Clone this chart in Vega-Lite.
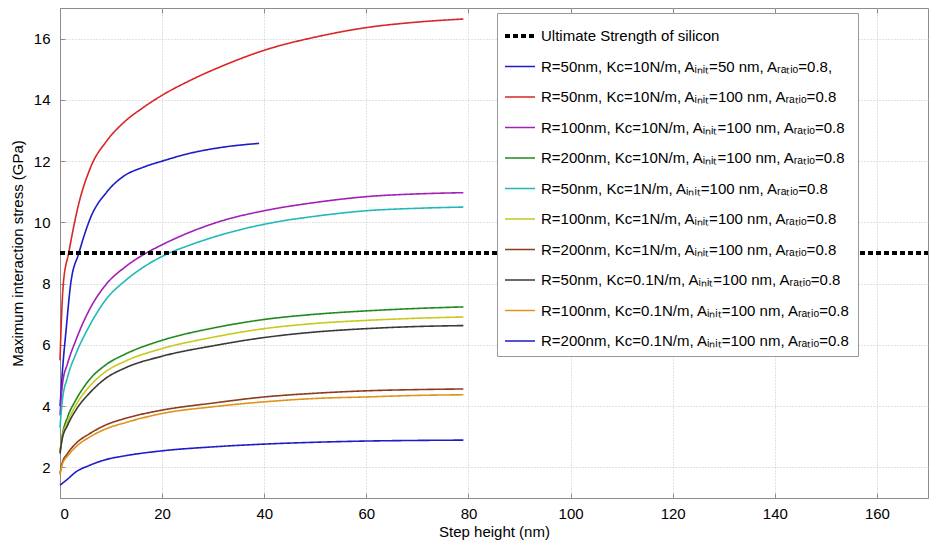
{
  "$schema": "https://vega.github.io/schema/vega-lite/v6.json",
  "width": 868,
  "height": 490,
  "autosize": {"type": "none"},
  "padding": {"left": 60, "top": 8, "right": 3, "bottom": 50},
  "background": "white",
  "datasets": {
    "labels": [
      {"id": "S0", "label": "Ultimate Strength of silicon"},
      {"id": "S1", "label": "R=50nm, Kc=10N/m, Aᵢₙᵢₜ=50 nm, Aᵣₐₜᵢₒ=0.8,"},
      {"id": "S2", "label": "R=50nm, Kc=10N/m, Aᵢₙᵢₜ=100 nm, Aᵣₐₜᵢₒ=0.8"},
      {"id": "S3", "label": "R=100nm, Kc=10N/m, Aᵢₙᵢₜ=100 nm, Aᵣₐₜᵢₒ=0.8"},
      {"id": "S4", "label": "R=200nm, Kc=10N/m, Aᵢₙᵢₜ=100 nm, Aᵣₐₜᵢₒ=0.8"},
      {"id": "S5", "label": "R=50nm, Kc=1N/m, Aᵢₙᵢₜ=100 nm, Aᵣₐₜᵢₒ=0.8"},
      {"id": "S6", "label": "R=100nm, Kc=1N/m, Aᵢₙᵢₜ=100 nm, Aᵣₐₜᵢₒ=0.8"},
      {"id": "S7", "label": "R=200nm, Kc=1N/m, Aᵢₙᵢₜ=100 nm, Aᵣₐₜᵢₒ=0.8"},
      {"id": "S8", "label": "R=50nm, Kc=0.1N/m, Aᵢₙᵢₜ=100 nm, Aᵣₐₜᵢₒ=0.8"},
      {"id": "S9", "label": "R=100nm, Kc=0.1N/m, Aᵢₙᵢₜ=100 nm, Aᵣₐₜᵢₒ=0.8"},
      {"id": "S10", "label": "R=200nm, Kc=0.1N/m, Aᵢₙᵢₜ=100 nm, Aᵣₐₜᵢₒ=0.8"}
    ],
    "curves": [
      {"id": "S0", "x": 0, "y": 9}, {"id": "S0", "x": 170, "y": 9},
      {"id": "S1", "x": 0, "y": 4.0}, {"id": "S1", "x": 0.13, "y": 4.3}, {"id": "S1", "x": 0.5, "y": 5.2}, {"id": "S1", "x": 1.2, "y": 6.5}, {"id": "S1", "x": 2.1, "y": 8.0}, {"id": "S1", "x": 3.7, "y": 9.0}, {"id": "S1", "x": 6, "y": 10.16}, {"id": "S1", "x": 9.2, "y": 11.0}, {"id": "S1", "x": 12.4, "y": 11.5}, {"id": "S1", "x": 16.3, "y": 11.8}, {"id": "S1", "x": 20, "y": 12.0}, {"id": "S1", "x": 25.3, "y": 12.25}, {"id": "S1", "x": 31.7, "y": 12.45}, {"id": "S1", "x": 39, "y": 12.58},
      {"id": "S2", "x": 0, "y": 5.5}, {"id": "S2", "x": 0.2, "y": 6.5}, {"id": "S2", "x": 0.65, "y": 8.0}, {"id": "S2", "x": 1.7, "y": 9.0}, {"id": "S2", "x": 3.5, "y": 10.49}, {"id": "S2", "x": 6, "y": 11.8}, {"id": "S2", "x": 9.2, "y": 12.67}, {"id": "S2", "x": 12.4, "y": 13.25}, {"id": "S2", "x": 16.3, "y": 13.75}, {"id": "S2", "x": 20, "y": 14.15}, {"id": "S2", "x": 25.3, "y": 14.62}, {"id": "S2", "x": 31.7, "y": 15.1}, {"id": "S2", "x": 40, "y": 15.62}, {"id": "S2", "x": 50, "y": 16.05}, {"id": "S2", "x": 60, "y": 16.36}, {"id": "S2", "x": 70, "y": 16.54}, {"id": "S2", "x": 79, "y": 16.64},
      {"id": "S3", "x": 0, "y": 3.7}, {"id": "S3", "x": 0.5, "y": 4.74}, {"id": "S3", "x": 1.5, "y": 5.4}, {"id": "S3", "x": 3.1, "y": 6.15}, {"id": "S3", "x": 5.7, "y": 7.13}, {"id": "S3", "x": 8.9, "y": 7.95}, {"id": "S3", "x": 12.8, "y": 8.55}, {"id": "S3", "x": 16.9, "y": 9.0}, {"id": "S3", "x": 20, "y": 9.27}, {"id": "S3", "x": 25.3, "y": 9.67}, {"id": "S3", "x": 31.7, "y": 10.05}, {"id": "S3", "x": 40, "y": 10.38}, {"id": "S3", "x": 50, "y": 10.65}, {"id": "S3", "x": 60, "y": 10.84}, {"id": "S3", "x": 70, "y": 10.93}, {"id": "S3", "x": 79, "y": 10.97},
      {"id": "S4", "x": 0, "y": 2.5}, {"id": "S4", "x": 0.4, "y": 3.0}, {"id": "S4", "x": 1.5, "y": 3.65}, {"id": "S4", "x": 3.1, "y": 4.2}, {"id": "S4", "x": 5.7, "y": 4.85}, {"id": "S4", "x": 8.9, "y": 5.34}, {"id": "S4", "x": 12.8, "y": 5.7}, {"id": "S4", "x": 20, "y": 6.15}, {"id": "S4", "x": 30, "y": 6.55}, {"id": "S4", "x": 40, "y": 6.83}, {"id": "S4", "x": 50, "y": 7.0}, {"id": "S4", "x": 60, "y": 7.11}, {"id": "S4", "x": 70, "y": 7.19}, {"id": "S4", "x": 79, "y": 7.24},
      {"id": "S5", "x": 0, "y": 3.3}, {"id": "S5", "x": 0.4, "y": 4.1}, {"id": "S5", "x": 1.5, "y": 4.96}, {"id": "S5", "x": 3.1, "y": 5.7}, {"id": "S5", "x": 5.7, "y": 6.6}, {"id": "S5", "x": 8.9, "y": 7.46}, {"id": "S5", "x": 12.8, "y": 8.1}, {"id": "S5", "x": 16, "y": 8.5}, {"id": "S5", "x": 21, "y": 8.97}, {"id": "S5", "x": 25.3, "y": 9.25}, {"id": "S5", "x": 31.7, "y": 9.6}, {"id": "S5", "x": 41.9, "y": 10.0}, {"id": "S5", "x": 50, "y": 10.2}, {"id": "S5", "x": 60, "y": 10.38}, {"id": "S5", "x": 70, "y": 10.46}, {"id": "S5", "x": 79, "y": 10.5},
      {"id": "S6", "x": 0, "y": 2.5}, {"id": "S6", "x": 0.4, "y": 2.95}, {"id": "S6", "x": 1.5, "y": 3.49}, {"id": "S6", "x": 3.1, "y": 4.03}, {"id": "S6", "x": 5.7, "y": 4.63}, {"id": "S6", "x": 8.9, "y": 5.12}, {"id": "S6", "x": 12.8, "y": 5.47}, {"id": "S6", "x": 20, "y": 5.88}, {"id": "S6", "x": 30, "y": 6.25}, {"id": "S6", "x": 40, "y": 6.53}, {"id": "S6", "x": 50, "y": 6.7}, {"id": "S6", "x": 60, "y": 6.8}, {"id": "S6", "x": 70, "y": 6.87}, {"id": "S6", "x": 79, "y": 6.91},
      {"id": "S7", "x": 0, "y": 1.8}, {"id": "S7", "x": 0.4, "y": 2.13}, {"id": "S7", "x": 1.5, "y": 2.46}, {"id": "S7", "x": 3.1, "y": 2.78}, {"id": "S7", "x": 5.7, "y": 3.09}, {"id": "S7", "x": 8.9, "y": 3.38}, {"id": "S7", "x": 12.8, "y": 3.6}, {"id": "S7", "x": 20, "y": 3.87}, {"id": "S7", "x": 30, "y": 4.1}, {"id": "S7", "x": 40, "y": 4.3}, {"id": "S7", "x": 50, "y": 4.42}, {"id": "S7", "x": 60, "y": 4.5}, {"id": "S7", "x": 70, "y": 4.54}, {"id": "S7", "x": 79, "y": 4.56},
      {"id": "S8", "x": 0, "y": 2.45}, {"id": "S8", "x": 0.4, "y": 2.9}, {"id": "S8", "x": 1.5, "y": 3.38}, {"id": "S8", "x": 3.1, "y": 3.87}, {"id": "S8", "x": 5.7, "y": 4.41}, {"id": "S8", "x": 8.9, "y": 4.9}, {"id": "S8", "x": 12.8, "y": 5.25}, {"id": "S8", "x": 20, "y": 5.63}, {"id": "S8", "x": 30, "y": 5.97}, {"id": "S8", "x": 40, "y": 6.24}, {"id": "S8", "x": 50, "y": 6.42}, {"id": "S8", "x": 60, "y": 6.53}, {"id": "S8", "x": 70, "y": 6.6}, {"id": "S8", "x": 79, "y": 6.63},
      {"id": "S9", "x": 0, "y": 1.75}, {"id": "S9", "x": 0.4, "y": 2.08}, {"id": "S9", "x": 1.5, "y": 2.37}, {"id": "S9", "x": 3.1, "y": 2.67}, {"id": "S9", "x": 5.7, "y": 2.98}, {"id": "S9", "x": 8.9, "y": 3.25}, {"id": "S9", "x": 12.8, "y": 3.46}, {"id": "S9", "x": 20, "y": 3.76}, {"id": "S9", "x": 30, "y": 3.98}, {"id": "S9", "x": 40, "y": 4.14}, {"id": "S9", "x": 50, "y": 4.25}, {"id": "S9", "x": 60, "y": 4.3}, {"id": "S9", "x": 70, "y": 4.35}, {"id": "S9", "x": 79, "y": 4.37},
      {"id": "S10", "x": 0, "y": 1.42}, {"id": "S10", "x": 1.5, "y": 1.62}, {"id": "S10", "x": 3.1, "y": 1.85}, {"id": "S10", "x": 5.7, "y": 2.06}, {"id": "S10", "x": 8.9, "y": 2.25}, {"id": "S10", "x": 12.8, "y": 2.38}, {"id": "S10", "x": 20, "y": 2.54}, {"id": "S10", "x": 30, "y": 2.67}, {"id": "S10", "x": 40, "y": 2.76}, {"id": "S10", "x": 50, "y": 2.82}, {"id": "S10", "x": 60, "y": 2.86}, {"id": "S10", "x": 70, "y": 2.88}, {"id": "S10", "x": 79, "y": 2.89}
    ]
  },
  "data": {"name": "curves"},
  "transform": [
    {"lookup": "id", "from": {"data": {"name": "labels"}, "key": "id", "fields": ["label"]}}
  ],
  "layer": [
    {
      "transform": [{"filter": "datum.id != 'S0'"}],
      "mark": {"type": "line", "interpolate": "monotone", "strokeWidth": 1.6},
      "encoding": {
        "x": {"field": "x", "type": "quantitative", "scale": {"domain": [0, 170], "nice": false},
              "axis": {"orient": "bottom", "title": "Step height (nm)", "values": [0, 20, 40, 60, 80, 100, 120, 140, 160], "tickSize": -5, "labelPadding": 13, "titlePadding": 3, "grid": true}},
        "y": {"field": "y", "type": "quantitative", "scale": {"domain": [1, 17], "nice": false, "zero": false},
              "axis": {"orient": "left", "title": "Maximum interaction stress (GPa)", "values": [2, 4, 6, 8, 10, 12, 14, 16], "tickSize": -5, "labelPadding": 15, "titlePadding": 8, "grid": true}},
        "detail": {"field": "id"},
        "color": {"field": "label", "type": "nominal", "scale": {"domain": [
            "Ultimate Strength of silicon",
            "R=50nm, Kc=10N/m, Aᵢₙᵢₜ=50 nm, Aᵣₐₜᵢₒ=0.8,",
            "R=50nm, Kc=10N/m, Aᵢₙᵢₜ=100 nm, Aᵣₐₜᵢₒ=0.8",
            "R=100nm, Kc=10N/m, Aᵢₙᵢₜ=100 nm, Aᵣₐₜᵢₒ=0.8",
            "R=200nm, Kc=10N/m, Aᵢₙᵢₜ=100 nm, Aᵣₐₜᵢₒ=0.8",
            "R=50nm, Kc=1N/m, Aᵢₙᵢₜ=100 nm, Aᵣₐₜᵢₒ=0.8",
            "R=100nm, Kc=1N/m, Aᵢₙᵢₜ=100 nm, Aᵣₐₜᵢₒ=0.8",
            "R=200nm, Kc=1N/m, Aᵢₙᵢₜ=100 nm, Aᵣₐₜᵢₒ=0.8",
            "R=50nm, Kc=0.1N/m, Aᵢₙᵢₜ=100 nm, Aᵣₐₜᵢₒ=0.8",
            "R=100nm, Kc=0.1N/m, Aᵢₙᵢₜ=100 nm, Aᵣₐₜᵢₒ=0.8",
            "R=200nm, Kc=0.1N/m, Aᵢₙᵢₜ=100 nm, Aᵣₐₜᵢₒ=0.8"],
            "range": ["#000000", "#1c1cc8", "#d92626", "#a020b8", "#1f8a1f", "#20b8b8", "#c8c81e", "#8c3c1c", "#3a3a3a", "#e0921c", "#1c1cc8"]},
          "legend": {"title": null, "orient": "none", "legendX": 437, "legendY": 5, "symbolType": "stroke", "symbolSize": 900, "labelFontSize": 15, "labelLimit": 0, "fillColor": "white", "strokeColor": "#999999", "padding": 7, "rowPadding": 6.5, "labelOffset": 5, "labelColor": "#000000", "labelFont": "Liberation Sans",
            "encode": {"symbols": {"update": {"strokeWidth": {"signal": "(datum && datum.index === 0 ? 4 : 1.6)"}}}}}},
        "strokeDash": {"field": "label", "type": "nominal", "scale": {"domain": [
            "Ultimate Strength of silicon",
            "R=50nm, Kc=10N/m, Aᵢₙᵢₜ=50 nm, Aᵣₐₜᵢₒ=0.8,",
            "R=50nm, Kc=10N/m, Aᵢₙᵢₜ=100 nm, Aᵣₐₜᵢₒ=0.8",
            "R=100nm, Kc=10N/m, Aᵢₙᵢₜ=100 nm, Aᵣₐₜᵢₒ=0.8",
            "R=200nm, Kc=10N/m, Aᵢₙᵢₜ=100 nm, Aᵣₐₜᵢₒ=0.8",
            "R=50nm, Kc=1N/m, Aᵢₙᵢₜ=100 nm, Aᵣₐₜᵢₒ=0.8",
            "R=100nm, Kc=1N/m, Aᵢₙᵢₜ=100 nm, Aᵣₐₜᵢₒ=0.8",
            "R=200nm, Kc=1N/m, Aᵢₙᵢₜ=100 nm, Aᵣₐₜᵢₒ=0.8",
            "R=50nm, Kc=0.1N/m, Aᵢₙᵢₜ=100 nm, Aᵣₐₜᵢₒ=0.8",
            "R=100nm, Kc=0.1N/m, Aᵢₙᵢₜ=100 nm, Aᵣₐₜᵢₒ=0.8",
            "R=200nm, Kc=0.1N/m, Aᵢₙᵢₜ=100 nm, Aᵣₐₜᵢₒ=0.8"],
            "range": [[5, 3], [1, 0], [1, 0], [1, 0], [1, 0], [1, 0], [1, 0], [1, 0], [1, 0], [1, 0], [1, 0]]},
          "legend": {"title": null}}
      }
    },
    {
      "transform": [{"filter": "datum.id == 'S0'"}],
      "mark": {"type": "line", "strokeWidth": 4},
      "encoding": {
        "x": {"field": "x", "type": "quantitative",
              "axis": {"orient": "top", "title": null, "labels": false, "values": [0, 20, 40, 60, 80, 100, 120, 140, 160], "tickSize": -5, "domain": false, "grid": false}},
        "y": {"field": "y", "type": "quantitative"},
        "color": {"field": "label", "type": "nominal"},
        "strokeDash": {"field": "label", "type": "nominal"}
      }
    }
  ],
  "resolve": {"axis": {"x": "independent"}},
  "config": {
    "font": "Liberation Sans",
    "view": {"stroke": "#8c8c8c", "strokeWidth": 1},
    "axis": {
      "domainColor": "#8c8c8c", "tickColor": "#8c8c8c", "gridColor": "#c4c4c4", "gridDash": [1, 2], "gridWidth": 1,
      "labelColor": "#000000", "titleColor": "#000000", "labelFontSize": 15, "titleFontSize": 15,
      "titleFontWeight": "normal", "labelFont": "Liberation Sans", "titleFont": "Liberation Sans"
    }
  }
}
